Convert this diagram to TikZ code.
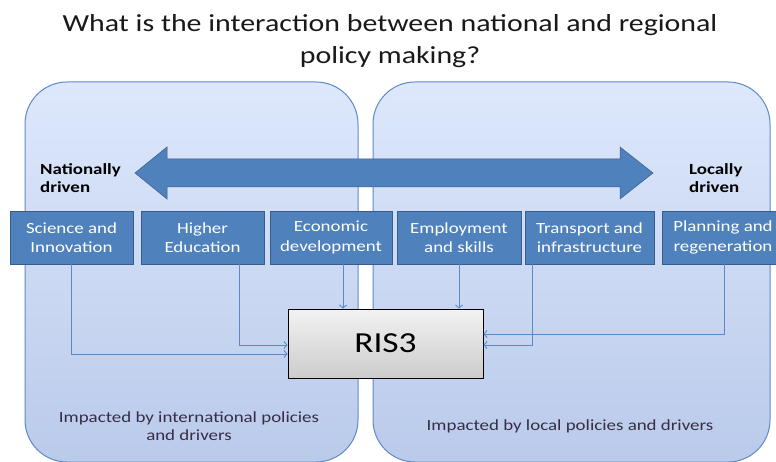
\documentclass[tikz,border=0pt]{standalone}
\usepackage{fontspec}
\setmainfont{Carlito}[FakeStretch=1.22]
\usetikzlibrary{arrows.meta,calc}
\definecolor{panelTop}{RGB}{221,232,252}
\definecolor{panelBot}{RGB}{186,202,234}
\definecolor{panelLine}{RGB}{96,138,196}
\definecolor{topicBlue}{RGB}{79,129,189}
\definecolor{topicLine}{RGB}{56,93,138}
\definecolor{linkBlue}{RGB}{90,138,198}
\definecolor{noteText}{RGB}{55,45,70}
\tikzset{
    panel/.style = {
        draw = panelLine,
        line width = 1pt,
        rounded corners = 42pt,
        top color = panelTop,
        bottom color = panelBot,
        },
    topic/.style = {
        draw = topicLine,
        fill = topicBlue,
        text = white,
        line width = 0.8pt,
        minimum height = 53pt,
        align = center,
        inner sep = 0pt,
        font = \fontsize{15.5}{19.5}\selectfont,
        },
    link/.style = {
        draw = linkBlue,
        line width = 0.9pt,
        -{Straight Barb[length=3pt,width=7pt]},
        },
    driver/.style = {
        align = left,
        anchor = west,
        inner sep = 0pt,
        font = \fontsize{15.5}{18}\selectfont\bfseries,
        },
    note/.style = {
        text = noteText,
        align = center,
        font = \fontsize{15.5}{18}\selectfont,
        },
}
\begin{document}
\begin{tikzpicture}[x=1pt, y=-1pt]
    \clip (0,0) rectangle (776,462);
    \fill[white] (0,0) rectangle (776,462);

    \node[font=\fontsize{24.5}{32}\selectfont, align=center, text=black!90] (title) at (390,41)
        {What is the interaction between national and regional\\policy making?};

    % the two policy areas
    \node[panel, minimum width=333pt, minimum height=380pt] (national) at (191.5,272) {};
    \node[panel, minimum width=397pt, minimum height=380pt] (local) at (571.5,272) {};

    % national <-> local scale
    \fill[topicBlue, draw=topicLine, line width=0.5pt]
        (135,173) -- (167,147) -- (167,159) -- (620,159) -- (620,147) -- (653,173)
        -- (620,199) -- (620,187) -- (167,187) -- (167,199) -- cycle;
    \node[driver] (natdrv) at (40,178) {Nationally\\driven};
    \node[driver] (locdrv) at (689,178) {Locally\\driven};

    \node[topic, minimum width=123pt] (sci) at (71.5,237.5) {Science and\\Innovation};
    \node[topic, minimum width=123pt] (hed) at (202.5,237.5) {Higher\\Education};
    \node[topic, minimum width=122pt] (eco) at (331,237.5) {Economic\\development};
    \node[topic, minimum width=124pt] (emp) at (459,237.5) {Employment\\and skills};
    \node[topic, minimum width=129pt] (tra) at (589.5,237.5) {Transport and\\infrastructure};
    \node[topic, minimum width=122pt] (pla) at (723,237.5) {Planning and\\regeneration};

    \node[draw, line width=0.9pt, top color=gray!10, bottom color=gray!40,
          minimum width=195pt, minimum height=69pt,
          font=\fontsize{29}{34}\selectfont] (ris) at (385.5,343.5) {RIS3};

    \draw[link] (sci.south) |- ([yshift=-10.5pt]ris.west);
    \draw[link] ([xshift=36.5pt]hed.south) |- ([yshift=-1.5pt]ris.west);
    \draw[link] ([xshift=12pt]eco.south) -- ([xshift=12pt]eco.south |- ris.north);
    \draw[link] (emp.south) -- (emp.south |- ris.north);
    \draw[link] ([xshift=-57.5pt]tra.south) |- ([yshift=-1.5pt]ris.east);
    \draw[link] ([xshift=1pt]pla.south) |- ([yshift=9.5pt]ris.east);

    \node[note] (natnote) at (189,426) {Impacted by international policies\\and drivers};
    \node[note] (locnote) at (570,426) {Impacted by local policies and drivers};
\end{tikzpicture}
\end{document}
